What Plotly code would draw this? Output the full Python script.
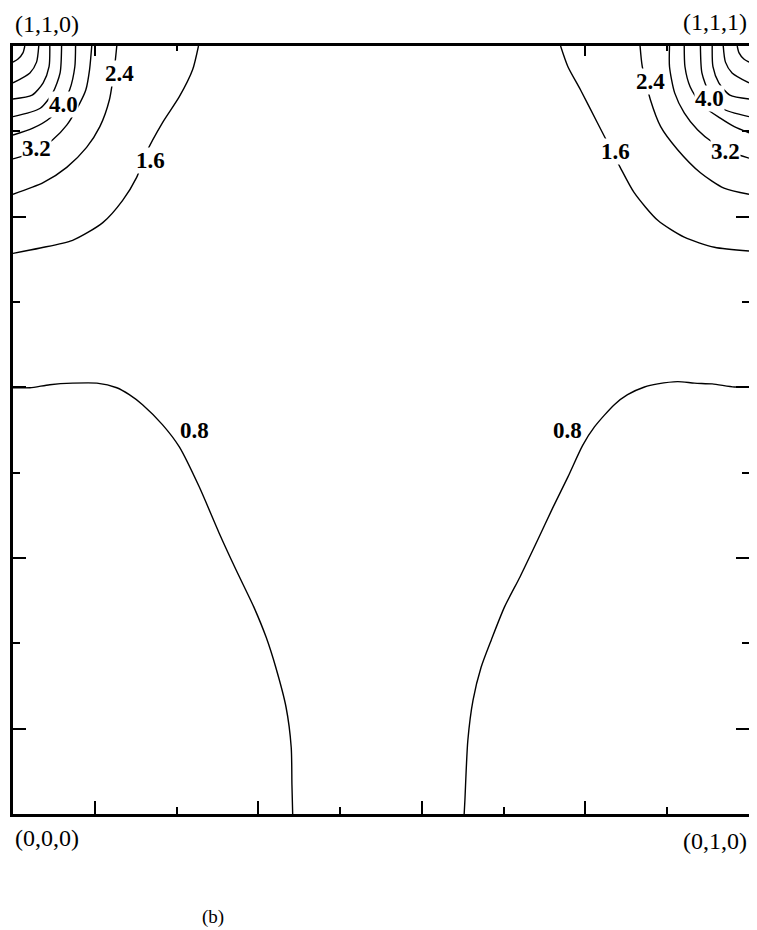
import plotly.graph_objects as go

# ---- contour lines (level -> x, y; None separates the left and right branches)
LEVELS = ["0.8", "1.6", "2.4", "3.2", "4.0", "4.8", "5.6", "6.4", "7.2"]

C08_X = [0, 0.023, 0.050, 0.081, 0.114, 0.141, 0.158, 0.176, 0.203, 0.226, 0.253, 0.280, 0.303, 0.327, 0.344, 0.357, 0.371, 0.378, 0.379, 0.380,
         None,
         1.0, 0.980, 0.950, 0.926, 0.903, 0.876, 0.858, 0.835, 0.817, 0.790, 0.774, 0.754, 0.733, 0.713, 0.689, 0.668, 0.650, 0.636, 0.625, 0.618, 0.614, 0.613]
C08_Y = [0.555, 0.555, 0.559, 0.561, 0.561, 0.555, 0.546, 0.533, 0.507, 0.478, 0.426, 0.366, 0.318, 0.270, 0.230, 0.191, 0.139, 0.087, 0.038, 0.0,
         None,
         0.556, 0.556, 0.560, 0.561, 0.563, 0.560, 0.556, 0.546, 0.533, 0.504, 0.480, 0.439, 0.398, 0.357, 0.309, 0.270, 0.227, 0.191, 0.148, 0.096, 0.018, 0.0]

C16_X = [0.252, 0.244, 0.226, 0.203, 0.181, 0.168, 0.149, 0.122, 0.081, 0.037, 0,
         None,
         0.744, 0.754, 0.771, 0.794, 0.808, 0.825, 0.844, 0.876, 0.912, 0.953, 1.0]
C16_Y = [1.0, 0.969, 0.934, 0.900, 0.861, 0.829, 0.799, 0.770, 0.747, 0.737, 0.730,
         None,
         1.0, 0.973, 0.943, 0.900, 0.874, 0.842, 0.809, 0.773, 0.751, 0.738, 0.733]

C24_X = [0.141, 0.138, 0.131, 0.118, 0.100, 0.073, 0.041, 0,
         None,
         0.852, 0.855, 0.866, 0.880, 0.903, 0.934, 0.966, 1.0]
C24_Y = [1.0, 0.973, 0.930, 0.895, 0.868, 0.842, 0.822, 0.807,
         None,
         1.0, 0.973, 0.930, 0.895, 0.865, 0.835, 0.815, 0.807]

C32_X = [0.107, 0.104, 0.099, 0.091, 0.073, 0.054, 0.030, 0,
         None,
         0.892, 0.892, 0.899, 0.912, 0.930, 0.950, 0.974, 1.0]
C32_Y = [1.0, 0.969, 0.943, 0.926, 0.897, 0.878, 0.862, 0.853,
         None,
         1.0, 0.973, 0.939, 0.913, 0.891, 0.875, 0.862, 0.854]

C40_X = [0.085, 0.084, 0.077, 0.068, 0.050, 0.027, 0,
         None,
         0.912, 0.913, 0.920, 0.936, 0.961, 0.980, 1.0]
C40_Y = [1.0, 0.973, 0.943, 0.926, 0.906, 0.893, 0.884,
         None,
         1.0, 0.973, 0.947, 0.923, 0.906, 0.895, 0.887]

C48_X = [0.066, 0.064, 0.054, 0.037, 0, None, 0.934, 0.936, 0.946, 0.963, 1.0]
C48_Y = [1.0, 0.965, 0.939, 0.919, 0.908, None, 1.0, 0.965, 0.939, 0.919, 0.908]

C56_X = [0.050, 0.049, 0.041, 0.026, 0, None, 0.950, 0.951, 0.959, 0.974, 1.0]
C56_Y = [1.0, 0.973, 0.952, 0.936, 0.931, None, 1.0, 0.973, 0.952, 0.936, 0.931]

C64_X = [0.035, 0.032, 0.023, 0, None, 0.965, 0.968, 0.977, 1.0]
C64_Y = [1.0, 0.979, 0.965, 0.952, None, 1.0, 0.979, 0.965, 0.952]

C72_X = [0.016, 0.0135, 0.0068, 0, None, 0.984, 0.9865, 0.993, 1.0]
C72_Y = [1.0, 0.991, 0.983, 0.979, None, 1.0, 0.991, 0.983, 0.979]

# ---- contour labels
LABEL_TEXT = ["2.4", "4.0", "3.2", "1.6", "0.8", "2.4", "4.0", "3.2", "1.6", "0.8"]
LABEL_X = [0.145, 0.068, 0.032, 0.187, 0.246, 0.866, 0.946, 0.968, 0.818, 0.754]
LABEL_Y = [0.964, 0.924, 0.867, 0.851, 0.500, 0.954, 0.931, 0.863, 0.863, 0.500]

# ---- corner labels
CORNER_TEXT = ["(1,1,0)", "(1,1,1)", "(0,0,0)", "(0,1,0)"]
PANEL_TEXT = "(b)"

# ---- tick positions (fractions of the cell edge)
MAJOR_TICKS = [1 / 9, 3 / 9, 5 / 9, 7 / 9]
MINOR_TICKS = [2 / 9, 4 / 9, 6 / 9, 8 / 9]
TOP_MAJOR = [1 / 9, 7 / 9]
TOP_MINOR = [2 / 9, 8 / 9]

curves = [(C08_X, C08_Y), (C16_X, C16_Y), (C24_X, C24_Y), (C32_X, C32_Y), (C40_X, C40_Y),
          (C48_X, C48_Y), (C56_X, C56_Y), (C64_X, C64_Y), (C72_X, C72_Y)]

fig = go.Figure()
for i, (lev, (xs, ys)) in enumerate(zip(LEVELS, curves)):
    fig.add_trace(go.Scatter(
        x=xs, y=ys, mode="lines", name=lev,
        xaxis="x2" if i == 0 else "x",
        line=dict(color="black", width=1.4, shape="spline", smoothing=0.7),
        connectgaps=False, hoverinfo="skip", showlegend=False,
    ))

SERIF = "Liberation Serif, Times New Roman, serif"

for t, x, y in zip(LABEL_TEXT, LABEL_X, LABEL_Y):
    fig.add_annotation(x=x, y=y, xref="x", yref="y", text="<b>%s</b>" % t,
                       showarrow=False, font=dict(family=SERIF, size=23, color="black"),
                       bgcolor="white", borderpad=0, xanchor="center", yanchor="middle")

corner_pos = [(0, 1, "left", 22), (1, 1, "right", 24), (0, 0, "left", -24), (1, 0, "right", -27)]
for t, (x, y, xa, ys) in zip(CORNER_TEXT, corner_pos):
    fig.add_annotation(x=x, y=y, xref="paper", yref="paper", text=t, showarrow=False,
                       font=dict(family=SERIF, size=24, color="black"),
                       xanchor=xa, yanchor="middle", yshift=ys)

fig.add_annotation(x=0.272, y=0, xref="paper", yref="paper", text=PANEL_TEXT, showarrow=False,
                   font=dict(family=SERIF, size=19, color="black"),
                   xanchor="center", yanchor="middle", yshift=-103)

base = dict(range=[0, 1], showgrid=False, zeroline=False, showticklabels=False,
            linecolor="black", linewidth=3, tickcolor="black")

fig.update_layout(
    xaxis=dict(**base, showline=True, mirror=True, side="bottom",
               ticks="inside", ticklen=13, tickwidth=2,
               tickmode="array", tickvals=MAJOR_TICKS,
               minor=dict(ticks="inside", ticklen=7, tickwidth=2, tickcolor="black",
                          tickmode="array", tickvals=MINOR_TICKS, showgrid=False)),
    xaxis2=dict(**base, showline=False, overlaying="x", side="top",
                ticks="inside", ticklen=10, tickwidth=2,
                tickmode="array", tickvals=TOP_MAJOR,
                minor=dict(ticks="inside", ticklen=5, tickwidth=2, tickcolor="black",
                           tickmode="array", tickvals=TOP_MINOR, showgrid=False)),
    yaxis=dict(**base, showline=True, mirror="ticks",
               ticks="inside", ticklen=13, tickwidth=2,
               tickmode="array", tickvals=MAJOR_TICKS,
               minor=dict(ticks="inside", ticklen=7, tickwidth=2, tickcolor="black",
                          tickmode="array", tickvals=MINOR_TICKS, showgrid=False)),
    width=749, height=922,
    margin=dict(l=5, r=5, t=38, b=116),
    plot_bgcolor="white", paper_bgcolor="white",
    showlegend=False,
)

fig.write_html("out.html")
